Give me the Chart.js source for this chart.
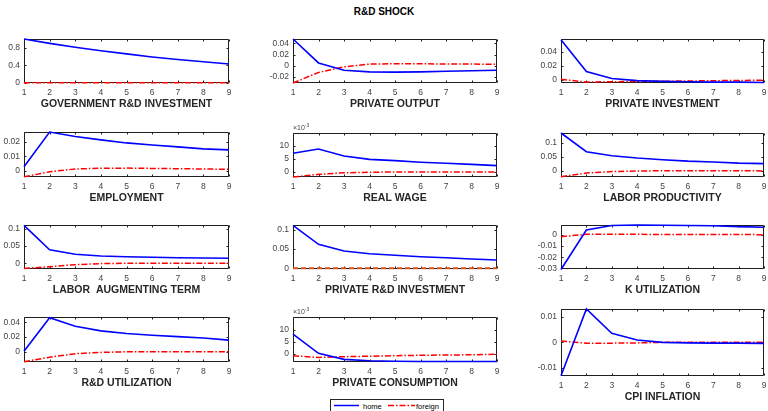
<!DOCTYPE html>
<html>
<head>
<meta charset="utf-8">
<script src="https://cdn.jsdelivr.net/npm/chart.js@4/dist/chart.umd.min.js"></script>
<style>
body { margin: 0; background: #fff; }
#wrap { position: relative; width: 768px; height: 411px; overflow: hidden; font-family: "Liberation Sans", Arial, sans-serif; }
#wrap canvas { position: absolute; }
#title { position: absolute; left: 0; top: 6px; width: 768px; text-align: center; font-weight: bold; font-size: 10px; color: #000; }
#legend { position: absolute; left: 330px; top: 399px; }
</style>
</head>
<body>
<div id="wrap">
  <div id="title">R&amp;D SHOCK</div>
  <svg id="legend" width="114" height="13">
    <rect x="0.5" y="0.5" width="113" height="13" fill="#fff" stroke="#262626" stroke-width="1"/>
    <line x1="4" y1="6.5" x2="29" y2="6.5" stroke="#0000ff" stroke-width="1.5"/>
    <text x="33" y="9.5" font-size="7.5" font-family="Liberation Sans, Arial" fill="#000">home</text>
    <line x1="58" y1="6.5" x2="85" y2="6.5" stroke="#ff0000" stroke-width="1.5" stroke-dasharray="6 2 1.5 2"/>
    <text x="86" y="9.5" font-size="7.5" font-family="Liberation Sans, Arial" fill="#000">foreign</text>
  </svg>
</div>
<script>
const periods = ['1', '2', '3', '4', '5', '6', '7', '8', '9'];

const govHome = [1.0, 0.9, 0.81, 0.73, 0.66, 0.59, 0.53, 0.48, 0.43];
const govForeign = [0, 0, 0, 0, 0, 0, 0, 0, 0];
const outHome = [0.048, 0.005, -0.008, -0.011, -0.0115, -0.011, -0.010, -0.009, -0.008];
const outForeign = [-0.031, -0.012, -0.002, 0.003, 0.0035, 0.0035, 0.003, 0.003, 0.0025];
const invHome = [0.057, 0.012, 0.002, -0.001, -0.002, -0.0025, -0.003, -0.003, -0.0035];
const invForeign = [0.001, -0.003, -0.0025, -0.002, -0.0018, -0.0015, -0.001, -0.0008, -0.0003];
const empHome = [0.003, 0.0268, 0.0237, 0.0214, 0.0193, 0.0179, 0.0166, 0.0152, 0.0145];
const empForeign = [-0.004, -0.0005, 0.0014, 0.0019, 0.002, 0.0018, 0.0016, 0.0014, 0.0012];
const wageHome = [7.1, 8.7, 6.1, 4.8, 4.3, 3.7, 3.3, 2.9, 2.4];        // x 10^-3
const wageForeign = [-1.9, -0.9, -0.3, -0.1, 0, 0, 0, 0, 0];
const prodHome = [0.134, 0.068, 0.054, 0.046, 0.040, 0.035, 0.032, 0.028, 0.026];
const prodForeign = [-0.02, -0.007, -0.002, 0, 0.001, 0.001, 0.001, 0.001, 0.0005];
const augHome = [0.11, 0.039, 0.026, 0.021, 0.019, 0.0175, 0.016, 0.0155, 0.0145];
const augForeign = [-0.015, -0.010, -0.004, -0.001, 0, 0, 0.0003, 0.0003, 0.0003];
const rdInvHome = [0.112, 0.0625, 0.045, 0.038, 0.0338, 0.0302, 0.0276, 0.024, 0.0216];
const rdInvForeign = [0, 0, 0, 0, 0, 0, 0, 0, 0];
const kUtilHome = [-0.031, 0.0045, 0.0086, 0.009, 0.0088, 0.0085, 0.0083, 0.0075, 0.007];
const kUtilForeign = [-0.0015, 0.0006, 0.0007, 0.0006, 0.0005, 0.0005, 0.0004, 0.0004, 0.0003];
const rdUtilHome = [0.001, 0.046, 0.0345, 0.0284, 0.0248, 0.0225, 0.0207, 0.0188, 0.016];
const rdUtilForeign = [-0.013, -0.007, -0.0023, -0.0005, 0.0003, 0.0005, 0.0005, 0.0005, 0.0005];
const consHome = [8.3, 0.3, -2.2, -2.8, -3.0, -3.1, -3.1, -3.1, -3.1];   // x 10^-3
const consForeign = [-0.7, -1.4, -1.1, -0.9, -0.7, -0.5, -0.4, -0.3, -0.1];
const cpiHome = [-0.013, 0.013, 0.0035, 0.0009, 0, -0.0002, -0.0003, -0.0003, -0.0004];
const cpiForeign = [0.0005, -0.0003, -0.0003, -0.0002, 0, 0, 0, 0, 0];

const govTicks = [0, 0.2, 0.4, 0.6, 0.8];
const outTicks = [-0.02, 0, 0.02, 0.04];
const invTicks = [0, 0.02, 0.04];
const empTicks = [0, 0.01, 0.02];
const wageTicks = [0, 5, 10];
const prodTicks = [0, 0.05, 0.1];
const augTicks = [0, 0.05, 0.1];
const rdInvTicks = [0, 0.05, 0.1];
const kUtilTicks = [-0.03, -0.02, -0.01, 0];
const rdUtilTicks = [0, 0.02, 0.04];
const consTicks = [0, 5, 10];
const cpiTicks = [-0.01, 0, 0.01];

// plot box: left, top, width, height
const panels = [
  { label: 'GOVERNMENT R&D INVESTMENT', home: govHome, foreign: govForeign, ticks: govTicks, min: -0.005, max: 1.0, box: [24, 39, 205, 44] },
  { label: 'PRIVATE OUTPUT', home: outHome, foreign: outForeign, ticks: outTicks, min: -0.031, max: 0.048, box: [293, 39, 204, 44] },
  { label: 'PRIVATE INVESTMENT', home: invHome, foreign: invForeign, ticks: invTicks, min: -0.0043, max: 0.058, box: [561, 39, 203, 44] },
  { label: 'EMPLOYMENT', home: empHome, foreign: empForeign, ticks: empTicks, min: -0.0041, max: 0.0268, box: [24, 132, 205, 45] },
  { label: 'REAL WAGE', home: wageHome, foreign: wageForeign, ticks: wageTicks, min: -1.9, max: 14.8, box: [293, 133, 204, 44], exp: true },
  { label: 'LABOR PRODUCTIVITY', home: prodHome, foreign: prodForeign, ticks: prodTicks, min: -0.021, max: 0.134, box: [561, 133, 203, 44] },
  { label: 'LABOR  AUGMENTING TERM', home: augHome, foreign: augForeign, ticks: augTicks, min: -0.0166, max: 0.111, box: [24, 225, 205, 44] },
  { label: 'PRIVATE R&D INVESTMENT', home: rdInvHome, foreign: rdInvForeign, ticks: rdInvTicks, min: -0.002, max: 0.113, box: [293, 225, 204, 44], dashed: true },
  { label: 'K UTILIZATION', home: kUtilHome, foreign: kUtilForeign, ticks: kUtilTicks, min: -0.0306, max: 0.009, box: [561, 225, 203, 44] },
  { label: 'R&D UTILIZATION', home: rdUtilHome, foreign: rdUtilForeign, ticks: rdUtilTicks, min: -0.0134, max: 0.047, box: [24, 317, 205, 45] },
  { label: 'PRIVATE CONSUMPTION', home: consHome, foreign: consForeign, ticks: consTicks, min: -3.3, max: 15.4, box: [293, 317, 204, 45], exp: true },
  { label: 'CPI INFLATION', home: cpiHome, foreign: cpiForeign, ticks: cpiTicks, min: -0.0131, max: 0.013, box: [561, 309, 203, 67] }
];

const FONT = '"Liberation Sans", Arial, sans-serif';
const AXIS_W = 34, PAD_T = 10, PAD_R = 8, XAXIS_H = 36;

// matlab style box with inward ticks, drawn under the lines
const boxPlugin = {
  id: 'panelbox',
  beforeDatasetsDraw(chart) {
    const { ctx, chartArea: a, scales } = chart;
    ctx.save();
    ctx.setLineDash([]);
    ctx.strokeStyle = '#1f1f1f';
    ctx.lineWidth = 1;
    const L = Math.round(a.left) + 0.5, T = Math.round(a.top) + 0.5;
    const R = Math.round(a.right) - 0.5, B = Math.round(a.bottom) - 0.5;
    ctx.beginPath();
    scales.x.ticks.forEach((t, i) => {
      const px = Math.round(scales.x.getPixelForTick(i)) + 0.5;
      ctx.moveTo(px, B); ctx.lineTo(px, B - 2);
      ctx.moveTo(px, T); ctx.lineTo(px, T + 2);
    });
    scales.y.ticks.forEach(t => {
      const py = Math.round(scales.y.getPixelForValue(t.value)) + 0.5;
      ctx.moveTo(L, py); ctx.lineTo(L + 2, py);
      ctx.moveTo(R, py); ctx.lineTo(R - 2, py);
    });
    ctx.moveTo(L, T); ctx.lineTo(R, T); ctx.lineTo(R, B); ctx.lineTo(L, B); ctx.closePath();
    ctx.stroke();
    ctx.restore();
  },
  afterDraw(chart) {
    const opts = chart.config.options.panel;
    const { ctx, chartArea: a } = chart;
    ctx.save();
    ctx.fillStyle = '#262626';
    ctx.textAlign = 'center';
    ctx.textBaseline = 'middle';
    ctx.font = 'bold 10.5px ' + FONT;
    ctx.fillText(opts.label, (a.left + a.right) / 2, a.bottom + 21.5);

    if (opts.exp) {
      ctx.fillStyle = '#444';
      ctx.textAlign = 'left';
      ctx.textBaseline = 'alphabetic';
      ctx.font = '7px ' + FONT;
      ctx.fillText('\u00d710', a.left, a.top - 3);
      const w = ctx.measureText('\u00d710').width;
      ctx.font = '5px ' + FONT;
      ctx.fillText('-3', a.left + w, a.top - 6);
    }
    ctx.restore();
  }
};

const wrap = document.getElementById('wrap');

panels.forEach(p => {
  const [pl, pt, pw, ph] = p.box;
  const canvas = document.createElement('canvas');
  canvas.width = pw + AXIS_W + PAD_R;
  canvas.height = ph + PAD_T + XAXIS_H;
  canvas.style.left = (pl - AXIS_W) + 'px';
  canvas.style.top = (pt - PAD_T) + 'px';
  wrap.appendChild(canvas);

  const foreignStyle = p.dashed
    ? { borderColor: '#d95319', borderWidth: 2, borderDash: [5, 3] }
    : { borderColor: '#ff0000', borderWidth: 1.5, borderDash: [6, 2, 1.5, 2] };

  new Chart(canvas, {
    type: 'line',
    data: {
      labels: periods,
      datasets: [
        { label: 'home', data: p.home, borderColor: '#0000ff', borderWidth: 1.6, pointRadius: 0, tension: 0, clip: 2 },
        Object.assign({ label: 'foreign', data: p.foreign, pointRadius: 0, tension: 0, clip: 2 }, foreignStyle)
      ]
    },
    options: {
      panel: { label: p.label, exp: p.exp },
      responsive: false,
      animation: false,
      events: [],
      layout: { padding: { top: PAD_T, right: PAD_R, left: 0, bottom: 0 } },
      plugins: {
        legend: { display: false },
        tooltip: { enabled: false }
      },
      scales: {
        x: {
          offset: false,
          grid: { display: false, drawTicks: false },
          border: { display: false },
          ticks: { color: '#444', font: { size: 8.5, family: FONT }, padding: 5, maxRotation: 0, autoSkip: false },
          afterFit(s) { s.height = XAXIS_H; }
        },
        y: {
          min: p.min,
          max: p.max,
          grid: { display: false, drawTicks: false },
          border: { display: false },
          afterBuildTicks(s) { s.ticks = p.ticks.map(v => ({ value: v })); },
          ticks: { color: '#444', font: { size: 8.5, family: FONT }, padding: 4, callback: v => String(v) },
          afterFit(s) { s.width = AXIS_W; }
        }
      }
    },
    plugins: [boxPlugin]
  });
});
</script>
</body>
</html>
